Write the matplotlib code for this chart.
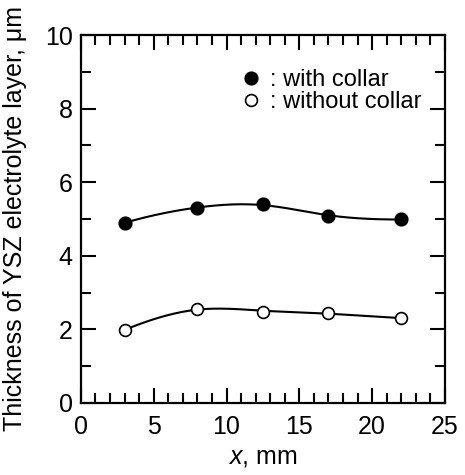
import matplotlib
matplotlib.use("Agg")
import matplotlib.pyplot as plt
import numpy as np
from matplotlib.ticker import MultipleLocator

plt.rcParams['font.family'] = ['Liberation Sans', 'DejaVu Sans']
plt.rcParams['mathtext.fontset'] = 'custom'
plt.rcParams['mathtext.it'] = 'Liberation Sans:italic'
plt.rcParams['mathtext.rm'] = 'Liberation Sans'

x_pos = [3, 8, 12.5, 17, 22]
with_collar = [4.90, 5.29, 5.41, 5.08, 4.99]
without_collar = [1.98, 2.55, 2.48, 2.44, 2.30]


def natural_spline(x, y, xs):
    # plain natural cubic spline through the points
    x = np.asarray(x, float)
    y = np.asarray(y, float)
    n = len(x)
    h = np.diff(x)
    A = np.zeros((n, n))
    b = np.zeros(n)
    A[0, 0] = A[-1, -1] = 1
    for i in range(1, n - 1):
        A[i, i - 1] = h[i - 1]
        A[i, i] = 2 * (h[i - 1] + h[i])
        A[i, i + 1] = h[i]
        b[i] = 3 * ((y[i + 1] - y[i]) / h[i] - (y[i] - y[i - 1]) / h[i - 1])
    c = np.linalg.solve(A, b)
    idx = np.clip(np.searchsorted(x, xs) - 1, 0, n - 2)
    dx = xs - x[idx]
    bb = (y[1:] - y[:-1]) / h - h * (2 * c[:-1] + c[1:]) / 3
    d = (c[1:] - c[:-1]) / (3 * h)
    return y[idx] + bb[idx] * dx + c[idx] * dx ** 2 + d[idx] * dx ** 3


fig = plt.figure(figsize=(4.65, 4.75), dpi=100)
ax = fig.add_axes([0.174, 0.152, 0.783, 0.774])

xs = np.linspace(min(x_pos), max(x_pos), 300)
for ys in (with_collar, without_collar):
    fit = 0.6 * natural_spline(x_pos, ys, xs) + 0.4 * np.polyval(np.polyfit(x_pos, ys, 3), xs)
    ax.plot(xs, fit, color='black', lw=1.5, zorder=2)

ax.plot(x_pos, with_collar, 'o', ms=9, mfc='black', mec='black', mew=1.2,
        ls='none', label=': with collar', zorder=3)
ax.plot(x_pos, without_collar, 'o', ms=8.5, mfc='white', mec='black', mew=1.2,
        ls='none', label=': without collar', zorder=3)

ax.set_xlim(0, 25)
ax.set_ylim(0, 10)
ax.xaxis.set_major_locator(MultipleLocator(5))
ax.xaxis.set_minor_locator(MultipleLocator(1))
ax.yaxis.set_major_locator(MultipleLocator(2))
ax.yaxis.set_minor_locator(MultipleLocator(1))
ax.tick_params(which='both', direction='in', top=True, right=True, width=1.5,
               labelsize=18)
ax.tick_params(axis='x', which='major', pad=9)
ax.tick_params(axis='y', which='major', pad=6)
ax.tick_params(which='major', length=11)
ax.tick_params(which='minor', length=7)
for sp in ax.spines.values():
    sp.set_linewidth(1.6)

ax.set_xlabel('$x$, mm', fontsize=18)
ax.set_ylabel('Thickness of YSZ electrolyte layer, μm', fontsize=18)
ax.xaxis.set_label_coords(0.5, -0.115)
ax.yaxis.set_label_coords(-0.148, 0.5)

ax.legend(loc='upper left', bbox_to_anchor=(0.405, 0.94), frameon=False,
          fontsize=17, handletextpad=0.35, handlelength=0.9, labelspacing=0.0,
          borderpad=0)

plt.savefig("out.png", dpi=100)
